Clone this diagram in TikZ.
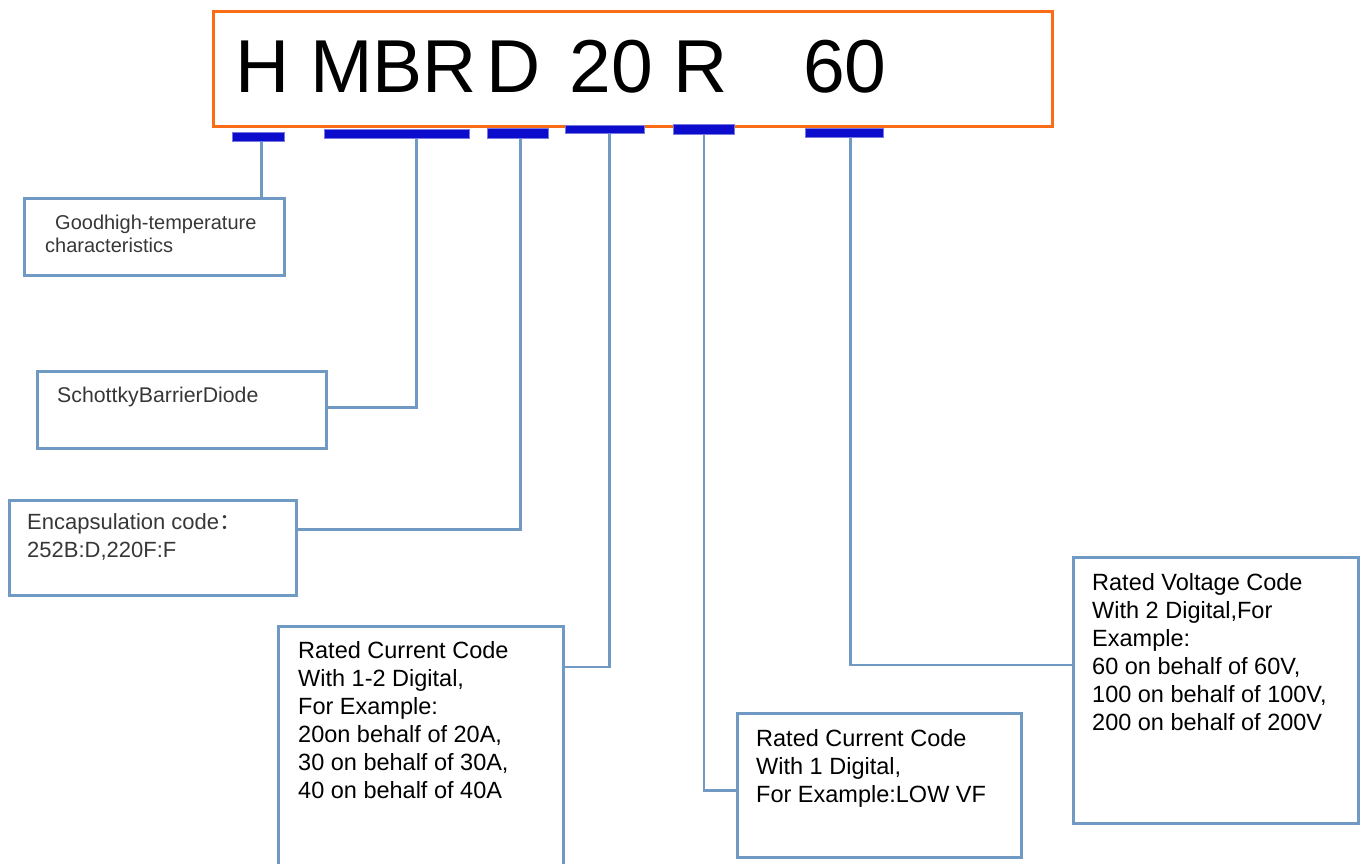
\documentclass[tikz,border=0pt]{standalone}
\usepackage{fontspec}
\setmainfont{Liberation Sans}
\newfontfamily\cjk{Noto Sans CJK SC}
\usepackage{tikz}
\usetikzlibrary{positioning}

\definecolor{frameorange}{RGB}{250,108,22}
\definecolor{linkblue}{RGB}{112,153,196}
\definecolor{barblue}{RGB}{12,12,205}
\definecolor{barhalo}{RGB}{120,120,228}
\definecolor{softgray}{RGB}{55,55,55}

\begin{document}
\begin{tikzpicture}[
  x=1pt, y=-1pt,
  codebox/.style={draw=frameorange, line width=3pt, anchor=north west,
    inner sep=0pt},
  bar/.style={fill=barblue, draw=barhalo, line width=1pt, anchor=north west,
    inner sep=0pt},
  descbox/.style={draw=linkblue, line width=2.6pt, anchor=north west,
    inner sep=0pt},
  small/.style={anchor=base west, align=left, inner sep=0pt, text=softgray,
    font=\fontsize{20}{23}\selectfont},
  large/.style={anchor=base west, align=left, inner sep=0pt,
    font=\fontsize{23.5}{28}\selectfont},
  link/.style={draw=linkblue, line width=2.6pt},
]
  \useasboundingbox (0,0) rectangle (1365,863);

  % part number
  \node[codebox, minimum width=839pt, minimum height=115pt] (code) at (212,10) {};
  \node[anchor=base west, inner sep=0pt, font=\fontsize{75}{75}\selectfont]
    (title) at (235,92) {H MBR\hspace*{-11pt} D\hspace*{8pt} 20 R\hspace*{75pt}60};

  % markers under each field
  \node[bar, minimum width=52pt, minimum height=9pt]  (b1) at (232,132) {};
  \node[bar, minimum width=145pt, minimum height=9pt] (b2) at (324,129) {};
  \node[bar, minimum width=61pt, minimum height=10pt] (b3) at (487,128) {};
  \node[bar, minimum width=79pt, minimum height=8pt]  (b4) at (565,125) {};
  \node[bar, minimum width=61pt, minimum height=10pt] (b5) at (673,124) {};
  \node[bar, minimum width=78pt, minimum height=9pt]  (b6) at (805,128) {};

  % description boxes
  \node[descbox, minimum width=260pt, minimum height=77pt]  (gtc) at (23,197) {};
  \node[descbox, minimum width=289pt, minimum height=77pt]  (sbd) at (36,370) {};
  \node[descbox, minimum width=287pt, minimum height=95pt]  (enc) at (8,499) {};
  \node[descbox, minimum width=285pt, minimum height=260pt] (rcc) at (277,625) {};
  \node[descbox, minimum width=284pt, minimum height=144pt] (lvf) at (736,712) {};
  \node[descbox, minimum width=285pt, minimum height=266pt] (rvc) at (1072,556) {};

  % texts (placed at the baseline of the last line)
  \node[small] (gtctext) at (45,252) {\hspace*{10pt}Goodhigh-temperature\\characteristics};
  \node[small, font=\fontsize{21.3}{23}\selectfont] (sbdtext) at (57,402) {SchottkyBarrierDiode};
  \node[small, font=\fontsize{22}{28}\selectfont] (enctext) at (27,557)
    {Encapsulation code{\cjk ：}\\252B:D,220F:F};
  \node[large] (rcctext) at (298,798) {Rated Current Code\\With 1-2 Digital,\\
    For Example:\\20on behalf of 20A,\\30 on behalf of 30A,\\40 on behalf of 40A};
  \node[large] (lvftext) at (756,802) {Rated Current Code\\With 1 Digital,\\
    For Example:LOW VF};
  \node[large] (rvctext) at (1092,730) {Rated Voltage Code\\With 2 Digital,For\\
    Example:\\60 on behalf of 60V,\\100 on behalf of 100V,\\200 on behalf of 200V};

  % connectors
  \draw[link] ([xshift=3pt]b1.south) -- ([xshift=3pt]b1.south |- gtc.north);
  \draw[link] ([xshift=19.5pt]b2.south) |- ([yshift=2.5pt]sbd.east);
  \draw[link] ([xshift=2.5pt]b3.south) |- ([yshift=18.5pt]enc.east);
  \draw[link] ([xshift=4.5pt]b4.south) |- ([yshift=-42pt]rcc.north east);
  \draw[link] (b5.south) |- ([yshift=-5pt]lvf.west);
  \draw[link] ([xshift=6pt]b6.south) |- ([yshift=-109pt]rvc.north west);
\end{tikzpicture}
\end{document}
